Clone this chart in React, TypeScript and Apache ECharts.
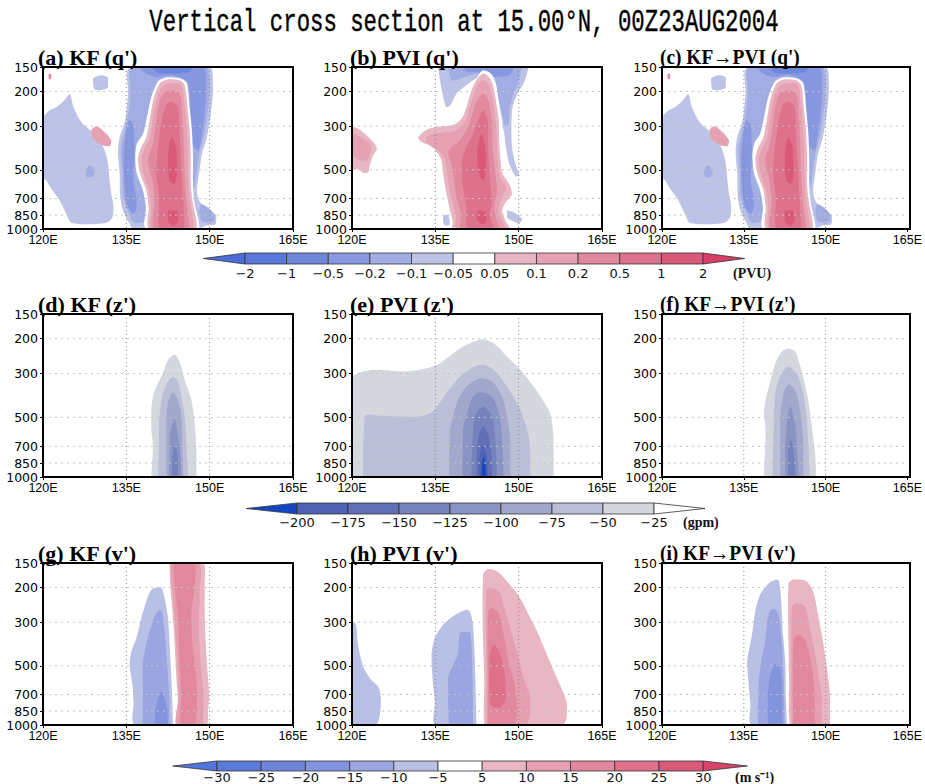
import React, { useEffect, useRef } from "react";
import * as echarts from "echarts";

type Layer = { lvl: number; pts: number[][] };

// ---------- axes / ticks ----------
const lonTicks = [120, 135, 150, 165];
const presTicks = [150, 200, 300, 500, 700, 850, 1000];
const gridLon = [135, 150];
const gridPres = [200, 300, 500, 700, 850];

// ---------- colour scales ----------
const qColors = ["#4c6dd8", "#5a78d9", "#6e87dc", "#8798e0", "#a2ade4", "#bcc3e7", "#ffffff", "#e9b7c4", "#e6a1b2", "#e2899e", "#de718b", "#da5878", "#d63f67"];
const qLabels = ["−2", "−1", "−0.5", "−0.2", "−0.1", "−0.05", "0.05", "0.1", "0.2", "0.5", "1", "2"];
const zColors = ["#1446c4", "#4f61b2", "#6170b6", "#7582bd", "#8a94c4", "#a1a8cc", "#babed6", "#d5d7df", "#ffffff"];
const zLabels = ["−200", "−175", "−150", "−125", "−100", "−75", "−50", "−25"];
const vColors = ["#5075dc", "#5a7ad9", "#6d86db", "#8394de", "#9aa5e1", "#b9c0e6", "#ffffff", "#e8b7c3", "#e59fb1", "#e2889e", "#de708a", "#da5a79", "#d64469"];
const vLabels = ["−30", "−25", "−20", "−15", "−10", "−5", "5", "10", "15", "20", "25", "30"];

// ---------- contour layers: [lon(°E), pressure(hPa)] ----------
const qKF: Layer[] = [
  { lvl: 5, pts: [[120, 275], [121.2, 249], [122.4, 240], [123.9, 220], [124.8, 205], [125.5, 240], [126.9, 286], [128.7, 319], [130.2, 355], [131.1, 399], [131.7, 466], [132.0, 567], [132.3, 663], [132.7, 775], [132.5, 872], [131.4, 930], [127.8, 946], [125.1, 930], [124.2, 838], [123.0, 717], [121.5, 625], [120.6, 567], [120, 545]] },
  { lvl: 4, pts: [[127.7, 504], [128.4, 475], [129.3, 500], [129.0, 540], [127.9, 545]] },
  { lvl: 5, pts: [[129.0, 172], [130.5, 165], [131.7, 170], [131.7, 190], [130.2, 197], [129.2, 194]] },
  { lvl: 8, pts: [[128.7, 315], [129.6, 300], [131.1, 322], [132.3, 355], [132.0, 380], [130.8, 376], [129.2, 352]] },
  { lvl: 9, pts: [[121.0, 164], [121.4, 162], [121.5, 172], [121.1, 173]] },
  { lvl: 5, pts: [[135.7, 150], [149.9, 150], [150.6, 190], [150.2, 259], [149.5, 341], [148.6, 415], [148.1, 524], [147.7, 638], [148.1, 717], [149.4, 790], [151.2, 855], [151.1, 943], [149.4, 960], [147.9, 1000], [136.2, 1000], [135.6, 943], [134.5, 822], [133.9, 690], [133.8, 524], [133.5, 407], [133.8, 341], [134.8, 280], [135.3, 205]] },
  { lvl: 4, pts: [[136.1, 150], [149.4, 150], [150.0, 190], [149.6, 259], [148.9, 341], [148.1, 415], [147.6, 524], [147.2, 613], [145.8, 663], [139.2, 717], [138.3, 907], [136.5, 935], [135.3, 806], [134.4, 676], [134.3, 524], [134.0, 407], [134.4, 341], [135.2, 280], [135.7, 205]] },
  { lvl: 4, pts: [[148.5, 746], [150.0, 790], [150.9, 855], [150.6, 925], [148.8, 925], [148.1, 838]] },
  { lvl: 3, pts: [[137.4, 150], [148.9, 150], [149.4, 182], [149.1, 259], [148.5, 341], [147.9, 399], [146.5, 355], [146.1, 182], [143.4, 165], [140.4, 169], [138.6, 162]] },
  { lvl: 3, pts: [[135.5, 280], [136.2, 292], [136.5, 399], [136.3, 567], [136.9, 746], [136.3, 838], [135.3, 775], [134.7, 613], [134.5, 431], [134.9, 328]] },
  { lvl: 2, pts: [[139.8, 150], [147.0, 150], [146.4, 159], [143.4, 162], [140.7, 161]] },
  { lvl: 6, pts: [[143.1, 169], [144.9, 172], [145.9, 182], [146.4, 240], [146.8, 315], [147.0, 431], [147.0, 590], [147.3, 746], [148.0, 907], [148.2, 1000], [138.6, 1000], [138.5, 775], [138.0, 638], [136.9, 524], [136.6, 431], [136.9, 369], [138.0, 328], [138.7, 270], [139.5, 213], [140.7, 178], [141.9, 170]] },
  { lvl: 7, pts: [[143.1, 173], [144.6, 175], [145.5, 185], [146.0, 240], [146.4, 315], [146.6, 431], [146.6, 590], [147.0, 746], [147.6, 907], [147.7, 1000], [139.2, 1000], [139.0, 775], [138.6, 638], [137.5, 524], [137.1, 440], [137.7, 383], [138.6, 341], [139.2, 280], [139.9, 217], [141.0, 182], [142.1, 174]] },
  { lvl: 8, pts: [[143.1, 181], [144.9, 185], [145.5, 240], [145.9, 315], [146.1, 431], [146.2, 590], [146.5, 746], [147.0, 907], [147.1, 1000], [139.7, 1000], [139.5, 775], [139.1, 638], [138.1, 524], [137.7, 448], [138.3, 391], [139.2, 348], [139.7, 280], [140.4, 222], [141.5, 188]] },
  { lvl: 9, pts: [[143.1, 197], [144.6, 205], [145.1, 270], [145.3, 355], [145.5, 524], [145.8, 717], [146.4, 1000], [140.1, 1000], [140.1, 717], [139.7, 567], [138.9, 448], [139.8, 369], [140.4, 280], [141.0, 222], [141.9, 201]] },
  { lvl: 10, pts: [[143.1, 226], [144.3, 240], [144.6, 328], [144.9, 485], [145.2, 690], [145.5, 1000], [141.0, 1000], [140.9, 690], [140.4, 524], [140.7, 383], [141.3, 292], [142.1, 235]] },
  { lvl: 11, pts: [[143.1, 341], [144.0, 383], [144.1, 524], [143.7, 590], [142.8, 567], [142.5, 431]] },
  { lvl: 11, pts: [[142.5, 806], [144.0, 806], [144.3, 907], [143.4, 960], [142.5, 907]] },
];

const qPVI: Layer[] = [
  { lvl: 5, pts: [[135.5, 150], [151.8, 150], [151.0, 179], [149.8, 205], [148.9, 240], [148.7, 303], [148.8, 383], [149.4, 466], [150.1, 535], [149.5, 541], [148.3, 466], [147.7, 383], [147.3, 315], [146.4, 270], [145.5, 231], [144.5, 190], [143.6, 165], [142.4, 171], [140.6, 185], [138.8, 205], [137.7, 235], [137.0, 240], [136.3, 205]] },
  { lvl: 4, pts: [[137.3, 150], [150.6, 150], [150.0, 175], [149.1, 205], [148.4, 240], [148.2, 290], [147.6, 300], [147.0, 260], [146.1, 215], [145.0, 180], [143.6, 163], [141.2, 165], [139.4, 172], [137.9, 175]] },
  { lvl: 3, pts: [[140.0, 150], [149.2, 150], [148.4, 165], [145.5, 168], [142.4, 159], [140.6, 159]] },
  { lvl: 5, pts: [[136.4, 857], [137.3, 847], [137.6, 943], [136.9, 965], [136.4, 925]] },
  { lvl: 5, pts: [[147.9, 806], [149.1, 822], [150.6, 889], [150.1, 937], [148.8, 907], [147.9, 872]] },
  { lvl: 6, pts: [[143.6, 156], [145.0, 162], [145.9, 182], [146.4, 222], [147.0, 280], [147.3, 341], [146.1, 399], [139.4, 355], [140.2, 275], [141.0, 235], [142.0, 193], [142.7, 167]] },
  { lvl: 7, pts: [[143.6, 162], [144.5, 167], [145.3, 182], [145.9, 222], [146.4, 280], [146.5, 355], [146.7, 431], [147.1, 524], [148.3, 590], [148.8, 663], [147.9, 717], [147.0, 806], [147.6, 907], [148.3, 1000], [138.2, 1000], [138.1, 907], [137.5, 775], [136.9, 638], [136.4, 524], [136.1, 448], [135.3, 407], [134.0, 376], [132.5, 361], [131.9, 343], [133.3, 315], [134.6, 305], [136.4, 300], [138.2, 296], [139.7, 275], [140.6, 240], [141.5, 197], [142.4, 175]] },
  { lvl: 8, pts: [[143.6, 175], [144.8, 190], [145.5, 231], [145.9, 292], [146.1, 369], [146.2, 448], [146.7, 545], [147.7, 613], [147.0, 690], [146.4, 806], [147.0, 907], [147.6, 1000], [138.8, 1000], [138.7, 872], [138.1, 746], [137.5, 613], [137.1, 514], [136.7, 440], [135.2, 391], [133.4, 361], [133.3, 341], [134.9, 328], [137.0, 322], [138.8, 315], [140.3, 286], [141.1, 245], [142.0, 205], [142.7, 182]] },
  { lvl: 9, pts: [[143.6, 205], [144.5, 222], [145.2, 280], [145.3, 383], [145.8, 524], [146.1, 638], [145.6, 775], [146.1, 907], [146.7, 1000], [139.7, 1000], [139.6, 838], [138.8, 690], [138.4, 567], [137.9, 466], [137.3, 415], [137.9, 383], [139.4, 355], [140.6, 315], [141.5, 270], [142.4, 226]] },
  { lvl: 10, pts: [[143.6, 249], [144.4, 280], [144.5, 383], [144.8, 567], [145.2, 717], [144.8, 838], [145.5, 1000], [140.9, 1000], [140.6, 775], [140.0, 613], [139.7, 485], [140.3, 399], [141.8, 328], [142.7, 280]] },
  { lvl: 11, pts: [[143.3, 328], [143.9, 376], [144.1, 485], [143.7, 567], [142.9, 524], [142.5, 414]] },
  { lvl: 11, pts: [[142.7, 806], [143.9, 812], [144.2, 907], [143.3, 943], [142.5, 889]] },
  { lvl: 7, pts: [[120, 308], [120.2, 303], [121.3, 311], [122.6, 334], [123.8, 361], [124.5, 391], [123.8, 423], [123.2, 475], [122.9, 514], [122.0, 519], [121.1, 494], [120.2, 504], [120, 504]] },
  { lvl: 8, pts: [[120.2, 328], [121.7, 341], [123.2, 369], [123.5, 399], [122.6, 448], [121.4, 448], [120.2, 414]] },
];

const qKFPVI: Layer[] = qKF;

const zKF: Layer[] = [
  { lvl: 7, pts: [[143.7, 241], [142.5, 256], [141.6, 298], [140.4, 349], [139.8, 392], [139.5, 457], [139.5, 577], [139.8, 700], [139.5, 1000], [147.6, 1000], [147.6, 728], [147.3, 534], [146.7, 407], [145.5, 323], [144.6, 261]] },
  { lvl: 6, pts: [[143.4, 311], [142.2, 342], [141.3, 408], [140.9, 534], [140.9, 700], [140.7, 1000], [146.1, 1000], [145.8, 674], [145.5, 494], [144.9, 392], [144.3, 329]] },
  { lvl: 5, pts: [[143.4, 374], [142.5, 423], [142.2, 534], [142.2, 728], [142.2, 1000], [145.2, 1000], [145.1, 674], [144.9, 494], [144.3, 408]] },
  { lvl: 4, pts: [[143.7, 510], [142.9, 600], [142.8, 786], [142.7, 1000], [144.9, 1000], [144.6, 700], [144.3, 616]] },
  { lvl: 3, pts: [[143.7, 700], [143.3, 786], [143.2, 1000], [144.3, 1000], [144.3, 786]] },
];

const zPVI: Layer[] = [
  { lvl: 7, pts: [[120, 317], [122.0, 293], [125.0, 287], [129.2, 293], [133.4, 282], [135.8, 266], [139.4, 224], [141.8, 207], [143.6, 201], [145.5, 211], [147.9, 246], [150.3, 287], [152.7, 349], [154.5, 415], [155.7, 479], [156.2, 600], [156.3, 728], [156.3, 1000], [120, 1000]] },
  { lvl: 6, pts: [[122.0, 1000], [122.3, 494], [125.0, 490], [132.2, 494], [134.6, 464], [137.0, 377], [139.4, 311], [141.8, 279], [143.6, 271], [145.5, 287], [147.9, 349], [149.7, 423], [150.9, 504], [151.8, 624], [152.1, 757], [152.1, 1000]] },
  { lvl: 5, pts: [[143.0, 317], [140.6, 349], [139.1, 407], [138.2, 494], [137.6, 600], [137.5, 1000], [148.5, 1000], [148.5, 653], [147.9, 494], [147.0, 392], [145.2, 329]] },
  { lvl: 4, pts: [[143.3, 373], [141.8, 392], [140.9, 457], [140.0, 577], [139.9, 1000], [147.3, 1000], [147.0, 628], [146.4, 475], [145.2, 392]] },
  { lvl: 3, pts: [[143.6, 440], [142.4, 475], [141.8, 577], [141.5, 1000], [146.1, 1000], [145.8, 653], [145.2, 494]] },
  { lvl: 2, pts: [[143.6, 555], [142.7, 628], [142.4, 1000], [145.2, 1000], [144.8, 653]] },
  { lvl: 1, pts: [[143.6, 700], [143.0, 786], [142.9, 1000], [144.5, 1000], [144.2, 786]] },
  { lvl: 0, pts: [[143.7, 786], [143.4, 880], [143.3, 1000], [144.1, 1000], [144.0, 860]] },
];

const zKFPVI: Layer[] = [
  { lvl: 7, pts: [[143.2, 224], [142.0, 232], [140.8, 266], [139.6, 349], [139.0, 407], [138.7, 475], [139.0, 577], [138.7, 1000], [148.3, 1000], [148.0, 728], [147.4, 534], [146.8, 407], [145.9, 311], [145.0, 256], [144.4, 232]] },
  { lvl: 6, pts: [[143.2, 276], [141.6, 311], [140.8, 377], [140.5, 534], [140.3, 1000], [147.1, 1000], [146.8, 653], [146.2, 423], [145.0, 311]] },
  { lvl: 5, pts: [[143.2, 342], [142.3, 377], [141.7, 494], [141.7, 700], [141.7, 1000], [145.9, 1000], [145.9, 674], [145.3, 457], [144.4, 362]] },
  { lvl: 4, pts: [[143.5, 440], [142.9, 534], [142.6, 728], [142.6, 1000], [145.0, 1000], [144.7, 700], [144.4, 534]] },
  { lvl: 3, pts: [[143.5, 635], [143.1, 786], [143.1, 1000], [144.4, 1000], [144.2, 786]] },
];

const vKF: Layer[] = [
  { lvl: 5, pts: [[140.7, 199], [139.5, 205], [138.6, 235], [137.7, 286], [136.8, 362], [135.9, 423], [135.6, 494], [136.1, 625], [136.3, 760], [136.5, 1000], [143.4, 1000], [143.3, 790], [143.1, 578], [142.8, 391], [142.5, 286], [141.9, 227], [141.3, 200]] },
  { lvl: 4, pts: [[141.0, 259], [140.1, 280], [139.2, 334], [138.3, 423], [137.9, 514], [138.0, 650], [138.0, 1000], [142.8, 1000], [142.7, 702], [142.3, 475], [141.9, 334], [141.5, 270]] },
  { lvl: 3, pts: [[141.3, 675], [140.4, 790], [140.1, 1000], [142.5, 1000], [142.2, 790]] },
  { lvl: 7, pts: [[142.8, 150], [148.8, 150], [149.1, 193], [149.1, 265], [149.3, 391], [149.7, 578], [149.9, 702], [149.7, 855], [149.4, 1000], [144.0, 1000], [144.3, 790], [144.0, 578], [143.7, 391], [143.3, 265], [142.9, 193]] },
  { lvl: 8, pts: [[142.9, 150], [148.1, 150], [148.2, 217], [148.1, 334], [148.4, 494], [148.9, 702], [148.7, 1000], [144.2, 1000], [144.4, 702], [144.0, 391], [143.5, 244]] },
  { lvl: 9, pts: [[143.5, 150], [147.3, 150], [147.3, 201], [146.7, 265], [146.9, 391], [147.6, 578], [147.7, 760], [147.3, 1000], [144.9, 1000], [144.9, 702], [144.6, 475], [144.3, 286], [143.7, 193]] },
];

const vPVI: Layer[] = [
  { lvl: 5, pts: [[120, 295], [120.7, 309], [121.1, 391], [121.9, 494], [123.2, 578], [124.7, 638], [125.2, 731], [125.0, 889], [124.3, 1000], [120, 1000]] },
  { lvl: 5, pts: [[140.6, 259], [141.1, 262], [141.7, 298], [142.0, 391], [142.2, 578], [142.4, 1000], [134.9, 1000], [134.9, 760], [134.5, 578], [134.3, 440], [134.9, 362], [136.4, 309], [138.2, 280], [139.7, 265]] },
  { lvl: 4, pts: [[139.7, 337], [141.1, 337], [141.5, 391], [141.7, 578], [141.8, 1000], [137.6, 1000], [137.3, 731], [137.3, 578], [138.2, 494], [139.0, 440], [139.3, 355]] },
  { lvl: 7, pts: [[144.5, 161], [143.6, 172], [143.5, 265], [143.6, 391], [143.8, 578], [143.9, 1000], [157.8, 1000], [158.6, 924], [158.7, 790], [158.2, 702], [156.9, 578], [155.1, 440], [153.3, 334], [151.8, 275], [150.3, 227], [147.9, 186], [146.1, 165]] },
  { lvl: 8, pts: [[144.8, 201], [144.2, 209], [144.1, 322], [144.2, 578], [144.2, 1000], [151.2, 1000], [152.1, 855], [152.0, 702], [150.9, 578], [150.0, 457], [148.8, 348], [147.6, 265], [146.4, 209]] },
  { lvl: 9, pts: [[145.1, 254], [144.5, 265], [144.4, 391], [144.5, 578], [144.5, 1000], [149.1, 1000], [149.7, 855], [149.4, 650], [148.2, 475], [147.3, 348], [146.4, 270]] },
  { lvl: 10, pts: [[145.6, 391], [144.8, 440], [144.7, 625], [144.9, 790], [146.5, 821], [147.7, 731], [147.4, 534], [146.5, 423]] },
];

const vKFPVI: Layer[] = [
  { lvl: 5, pts: [[141.1, 182], [139.6, 190], [138.0, 217], [137.1, 265], [136.5, 348], [135.9, 423], [135.6, 475], [135.9, 625], [136.2, 790], [136.4, 1000], [142.9, 1000], [142.7, 702], [142.6, 475], [142.1, 322], [141.9, 244], [141.5, 186]] },
  { lvl: 4, pts: [[139.9, 259], [140.8, 256], [141.5, 286], [142.0, 391], [142.3, 578], [142.5, 1000], [137.6, 1000], [137.7, 625], [138.2, 475], [138.9, 376], [139.3, 298]] },
  { lvl: 3, pts: [[140.8, 490], [139.9, 555], [139.4, 731], [139.4, 1000], [142.1, 1000], [142.0, 625], [141.7, 514]] },
  { lvl: 7, pts: [[144.1, 182], [143.2, 190], [143.1, 265], [143.2, 391], [143.3, 578], [143.5, 1000], [150.8, 1000], [150.8, 702], [150.5, 578], [149.9, 440], [149.3, 348], [148.5, 265], [147.7, 209], [146.5, 186], [145.3, 182]] },
  { lvl: 8, pts: [[144.7, 240], [143.8, 254], [143.7, 391], [143.7, 578], [143.8, 1000], [149.3, 1000], [149.3, 731], [148.8, 578], [148.0, 423], [147.1, 322], [146.2, 249]] },
  { lvl: 9, pts: [[144.9, 348], [144.1, 376], [144.0, 578], [144.1, 1000], [148.0, 1000], [148.0, 702], [147.4, 494], [146.2, 369]] },
];

const panelTitles = ["(a) KF (q')", "(b) PVI (q')", "(c) KF→PVI (q')", "(d) KF (z')", "(e) PVI (z')", "(f) KF→PVI (z')", "(g) KF (v')", "(h) PVI (v')", "(i) KF→PVI (v')"];
const panelLayers = [qKF, qPVI, qKFPVI, zKF, zPVI, zKFPVI, vKF, vPVI, vKFPVI];
const panelColors = [qColors, qColors, qColors, zColors, zColors, zColors, vColors, vColors, vColors];

// ---------- layout ----------
const colLeft = [43, 352, 662];
const colWidth = [250, 250, 248];
const titleLeft = [38, 350, 660];
const titleScale = [1, 1, 0.88];
const rowTop = [67, 314, 563];
const rowHeight = [162, 163, 162];

const lg = (p: number) => Math.log10(p);

function colorbar(colors: string[], labels: string[], x0: number, bw: number, y: number, h: number, labelY: number, unit: string, unitX: number) {
  const els: any[] = [];
  const n = colors.length - 2;
  const st = { stroke: "#333", lineWidth: 0.8 };
  els.push({ type: "polygon", shape: { points: [[x0 - bw, y + h / 2], [x0, y], [x0, y + h]] }, style: { fill: colors[0], ...st } });
  for (let k = 0; k < n; k++) {
    els.push({ type: "rect", shape: { x: x0 + k * bw, y, width: bw, height: h }, style: { fill: colors[k + 1], ...st } });
  }
  els.push({ type: "polygon", shape: { points: [[x0 + n * bw, y], [x0 + (n + 1) * bw, y + h / 2], [x0 + n * bw, y + h]] }, style: { fill: colors[n + 1], ...st } });
  labels.forEach((t, k) => {
    els.push({ type: "text", x: x0 + k * bw, y: labelY, style: { text: t, textAlign: "center", textVerticalAlign: "middle", font: '13px "DejaVu Sans"', fill: "#111" } });
  });
  els.push({ type: "text", x: unitX, y: labelY, style: { text: unit, textAlign: "left", textVerticalAlign: "middle", font: 'bold 14px "Liberation Serif"', fill: "#111" } });
  return els;
}

export default function App() {
  const ref = useRef<HTMLDivElement>(null);
  useEffect(() => {
    if (!ref.current) return;
    const chart = echarts.init(ref.current, null, { renderer: "svg" });
    const grid: any[] = [];
    const xAxis: any[] = [];
    const yAxis: any[] = [];
    const series: any[] = [];
    const graphic: any[] = [];
    const gridDefs = [...gridLon.map((v) => ({ k: "v", v })), ...gridPres.map((v) => ({ k: "h", v }))];

    panelLayers.forEach((layers, i) => {
      const r = Math.floor(i / 3);
      const c = i % 3;
      const left = colLeft[c];
      const top = rowTop[r];
      const width = colWidth[c];
      const height = rowHeight[r];
      const colors = panelColors[i];
      grid.push({ left, top, width, height });
      xAxis.push({
        type: "value", gridIndex: i, min: lonTicks[0], max: lonTicks[lonTicks.length - 1], interval: 15,
        axisLine: { show: false },
        axisTick: { show: true, inside: false, length: 3, lineStyle: { color: "#000", width: 1 } },
        axisLabel: { formatter: (v: number) => v + "E", margin: 4, fontSize: 12.5, fontFamily: "Liberation Sans", color: "#000" },
        splitLine: { show: false },
      });
      yAxis.push({
        type: "value", gridIndex: i, inverse: true, min: lg(150), max: lg(1000),
        axisLine: { show: false },
        axisTick: { show: true, inside: false, length: 3, customValues: presTicks.map(lg), lineStyle: { color: "#000", width: 1 } },
        axisLabel: { customValues: presTicks.map(lg), formatter: (v: number) => String(Math.round(Math.pow(10, v))), margin: 5, fontSize: 12.5, fontFamily: "DejaVu Sans", color: "#000" },
        splitLine: { show: false },
      });
      series.push({
        type: "custom", xAxisIndex: i, yAxisIndex: i, clip: true, silent: true, z: 2,
        data: layers.map((_, k) => [k]),
        renderItem: (params: any, api: any) => {
          const L = layers[params.dataIndex];
          const pts = L.pts.map(([lon, p]) => api.coord([lon, lg(p)]));
          return {
            type: "polygon",
            shape: { points: pts, smooth: 0.3, smoothConstraint: [[Infinity, Infinity], [-Infinity, -Infinity]] },
            style: { fill: colors[L.lvl], stroke: null },
          };
        },
      });
      series.push({
        type: "custom", xAxisIndex: i, yAxisIndex: i, clip: true, silent: true, z: 3,
        data: gridDefs.map((_, k) => [k]),
        renderItem: (params: any, api: any) => {
          const g = gridDefs[params.dataIndex];
          let a, b;
          if (g.k === "v") { a = api.coord([g.v, lg(150)]); b = api.coord([g.v, lg(1000)]); }
          else { a = api.coord([120, lg(g.v)]); b = api.coord([165, lg(g.v)]); }
          return {
            type: "line",
            shape: { x1: a[0], y1: a[1], x2: b[0], y2: b[1] },
            style: g.k === "v" ? { stroke: "#888", lineWidth: 1, lineDash: [1, 3] } : { stroke: "#c4c4c4", lineWidth: 1, lineDash: [2, 4] },
          };
        },
      });
      graphic.push({ type: "rect", z: 100, shape: { x: left, y: top, width, height }, style: { fill: "none", stroke: "#000", lineWidth: 2 } });
      graphic.push({ type: "text", z: 100, x: titleLeft[c], y: top + 1, scaleX: titleScale[c], style: { text: panelTitles[i], textAlign: "left", textVerticalAlign: "bottom", font: 'bold 22px "Liberation Serif"', fill: "#000" } });
    });

    graphic.push({ type: "text", z: 100, x: 464, y: 23, scaleX: 0.72, style: { text: "Vertical cross section at 15.00°N, 00Z23AUG2004", textAlign: "center", textVerticalAlign: "middle", font: '31px "Liberation Mono"', fill: "#000", stroke: "#000", lineWidth: 0.4 } });
    graphic.push(...colorbar(qColors, qLabels, 245, 41.64, 253, 11, 273, "(PVU)", 733));
    graphic.push(...colorbar(zColors, zLabels, 297, 51, 503, 11, 522, "(gpm)", 683));
    graphic.push(...colorbar(vColors, vLabels, 217, 44.2, 761, 10, 777, "(m s⁻¹)", 735));

    chart.setOption({ animation: false, backgroundColor: "#fff", grid, xAxis, yAxis, series, graphic });
    return () => chart.dispose();
  }, []);
  return <div ref={ref} style={{ position: "absolute", left: 0, top: 0, width: 925, height: 784 }} />;
}
